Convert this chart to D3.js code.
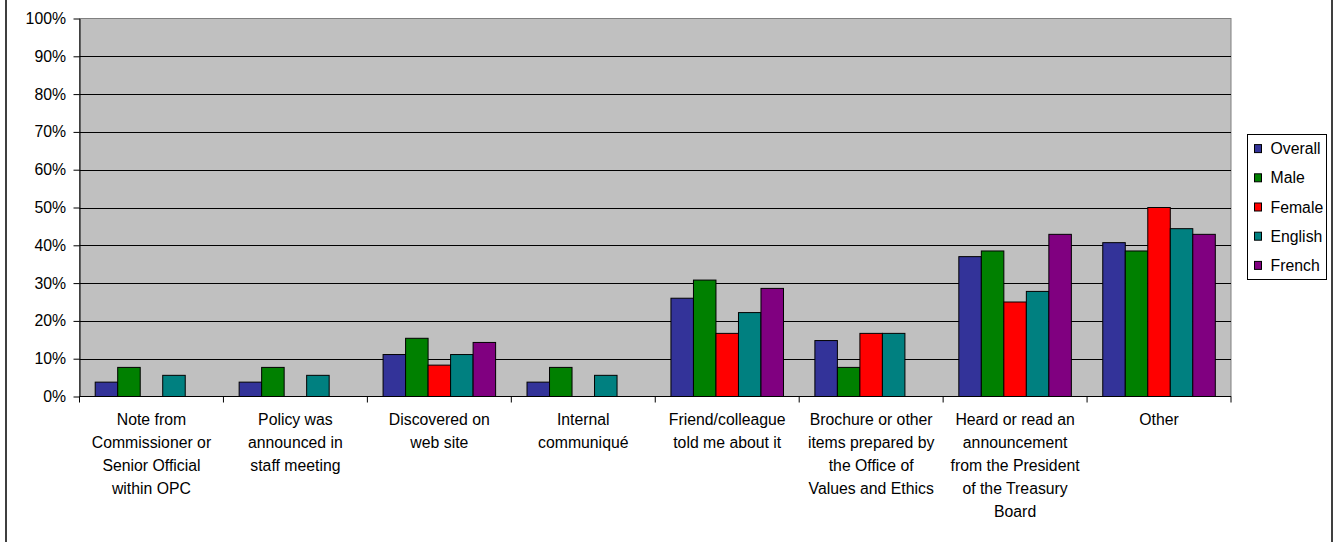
<!DOCTYPE html>
<html>
<head>
<meta charset="utf-8">
<script src="https://cdn.jsdelivr.net/npm/d3@7"></script>
<style>
  html, body { margin: 0; padding: 0; background: #fff; }
  svg { display: block; font-family: Arial, "Liberation Sans", sans-serif; }
</style>
</head>
<body>
<svg id="chart" width="1334" height="542"></svg>
<script>
// How respondents learned about the policy, by group (percent)
const categories = [
  "Note from Commissioner or Senior Official within OPC",
  "Policy was announced in staff meeting",
  "Discovered on web site",
  "Internal communiqué",
  "Friend/colleague told me about it",
  "Brochure or other items prepared by the Office of Values and Ethics",
  "Heard or read an announcement from the President of the Treasury Board",
  "Other"
];
const categoryLines = [
  ["Note from", "Commissioner or", "Senior Official", "within OPC"],
  ["Policy was", "announced in", "staff meeting"],
  ["Discovered on", "web site"],
  ["Internal", "communiqué"],
  ["Friend/colleague", "told me about it"],
  ["Brochure or other", "items prepared by", "the Office of", "Values and Ethics"],
  ["Heard or read an", "announcement", "from the President", "of the Treasury", "Board"],
  ["Other"]
];
const seriesNames = ["Overall", "Male", "Female", "English", "French"];
const seriesColors = ["#333399", "#008000", "#FF0000", "#008080", "#800080"];
const overall = [3.8, 3.8, 11.1, 3.8, 26.0, 14.8, 37.0, 40.7];
const male    = [7.7, 7.7, 15.4, 7.7, 30.8, 7.7, 38.5, 38.5];
const female  = [0, 0, 8.3, 0, 16.7, 16.7, 25.0, 50.0];
const english = [5.6, 5.6, 11.1, 5.6, 22.2, 16.7, 27.8, 44.4];
const french  = [0, 0, 14.3, 0, 28.6, 0, 42.9, 42.9];
const yTicks = [0, 10, 20, 30, 40, 50, 60, 70, 80, 90, 100];

const seriesValues = [overall, male, female, english, french];

const svg = d3.select("#chart");
const FS = 15.8;

// outer chart frame
svg.append("rect")
  .attr("x", 6).attr("y", -4).attr("width", 1326).attr("height", 552)
  .attr("fill", "none").attr("stroke", "#000").attr("stroke-width", 1.5);

const plot = { left: 79.5, top: 18.5, right: 1231, bottom: 396.5 };

const x0 = d3.scaleBand()
  .domain(d3.range(categories.length))
  .range([plot.left, plot.right])
  .padding(0);

const groupPad = 15.7;
const x1 = d3.scaleBand()
  .domain(d3.range(seriesNames.length))
  .range([groupPad, x0.bandwidth() - groupPad])
  .padding(0);

const y = d3.scaleLinear().domain([0, 100]).range([plot.bottom, plot.top]);

// plot background
svg.append("rect")
  .attr("x", plot.left).attr("y", plot.top)
  .attr("width", plot.right - plot.left).attr("height", plot.bottom - plot.top)
  .attr("fill", "#C0C0C0").attr("stroke", "#808080").attr("stroke-width", 1);

// gridlines
svg.append("g")
  .selectAll("line")
  .data(yTicks.filter(t => t > 0 && t < 100))
  .join("line")
  .attr("x1", plot.left).attr("x2", plot.right)
  .attr("y1", d => Math.round(y(d)) + 0.5).attr("y2", d => Math.round(y(d)) + 0.5)
  .attr("stroke", "#000").attr("stroke-width", 1);

// bars
const groups = svg.append("g")
  .selectAll("g")
  .data(d3.range(categories.length))
  .join("g")
  .attr("transform", i => `translate(${x0(i)},0)`);

groups.selectAll("rect")
  .data(i => seriesValues.map((vals, s) => ({ s, v: vals[i] })).filter(d => d.v > 0))
  .join("rect")
  .attr("x", d => x1(d.s))
  .attr("width", x1.bandwidth())
  .attr("y", d => y(d.v))
  .attr("height", d => y(0) - y(d.v))
  .attr("fill", d => seriesColors[d.s])
  .attr("stroke", "#000").attr("stroke-width", 1);

// y axis
const yAxis = svg.append("g")
  .attr("transform", `translate(${plot.left},0)`)
  .call(d3.axisLeft(y).tickValues(yTicks).tickFormat(d => d + "%").tickSize(6).tickSizeOuter(0));
yAxis.select(".domain").attr("stroke", "#000");
yAxis.selectAll(".tick line").attr("stroke", "#000");
yAxis.selectAll(".tick text")
  .attr("x", -13.5)
  .attr("font-size", FS).attr("font-family", "Arial, 'Liberation Sans', sans-serif")
  .attr("fill", "#000");

// x axis
const xAxis = svg.append("g")
  .attr("transform", `translate(0,${plot.bottom})`);
xAxis.append("line")
  .attr("x1", plot.left).attr("x2", plot.right)
  .attr("y1", 0).attr("y2", 0).attr("stroke", "#000");
xAxis.selectAll("line.tick")
  .data(d3.range(categories.length + 1))
  .join("line")
  .attr("class", "tick")
  .attr("x1", i => plot.left + i * x0.step()).attr("x2", i => plot.left + i * x0.step())
  .attr("y1", 0).attr("y2", 6).attr("stroke", "#000");

const labels = svg.append("g")
  .selectAll("text")
  .data(d3.range(categories.length))
  .join("text")
  .attr("text-anchor", "middle")
  .attr("font-size", FS)
  .attr("fill", "#000")
  .attr("x", i => x0(i) + x0.bandwidth() / 2);
labels.selectAll("tspan")
  .data(i => categoryLines[i].map(t => ({ t, x: x0(i) + x0.bandwidth() / 2 })))
  .join("tspan")
  .attr("x", d => d.x)
  .attr("y", (d, k) => 424.8 + k * 23.1)
  .text(d => d.t);

// legend
const legend = svg.append("g");
legend.append("rect")
  .attr("x", 1247.5).attr("y", 134.5).attr("width", 79).attr("height", 145)
  .attr("fill", "#fff").attr("stroke", "#000").attr("stroke-width", 1);
const item = legend.selectAll("g")
  .data(seriesNames)
  .join("g")
  .attr("transform", (d, i) => `translate(0,${148.6 + i * 29.2})`);
item.append("rect")
  .attr("x", 1254.5).attr("y", -4).attr("width", 7).attr("height", 8)
  .attr("fill", (d, i) => seriesColors[i]).attr("stroke", "#000").attr("stroke-width", 1);
item.append("text")
  .attr("x", 1270.5).attr("y", 5.5)
  .attr("font-size", FS).attr("fill", "#000")
  .text(d => d);
</script>
</body>
</html>
